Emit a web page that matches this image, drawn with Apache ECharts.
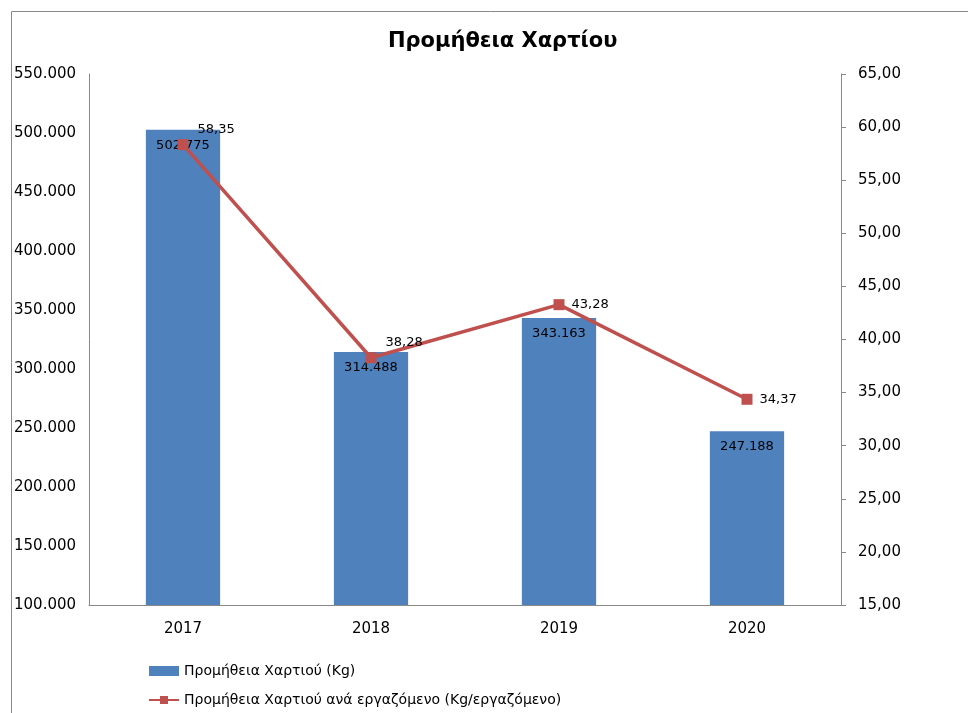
<!DOCTYPE html>
<html>
<head>
<meta charset="utf-8">
<script src="https://cdn.jsdelivr.net/npm/echarts@6/dist/echarts.min.js"></script>
<style>
  html, body { margin: 0; padding: 0; background: #fff; }
  #chart { width: 968px; height: 713px; }
</style>
</head>
<body>
<div id="chart"></div>
<script>
// Data
var years = ['2017', '2018', '2019', '2020'];
var paperKg = [502775, 314488, 343163, 247188];
var paperPerEmployee = [58.35, 38.28, 43.28, 34.37];

var barName = 'Προμήθεια Χαρτιού (Kg)';
var lineName = 'Προμήθεια Χαρτιού ανά εργαζόμενο (Kg/εργαζόμενο)';

var font = 'DejaVu Sans';

function thousands(v) {
    return String(Math.round(v)).replace(/\B(?=(\d{3})+(?!\d))/g, '.');
}
function decimal2(v) {
    return v.toFixed(2).replace('.', ',');
}

var myChart = echarts.init(document.getElementById('chart'));

myChart.setOption({
    animation: false,
    textStyle: { fontFamily: font },
    title: {
        text: 'Προμήθεια Χαρτίου',
        left: 383,
        top: 26,
        textStyle: { fontFamily: font, fontSize: 21, fontWeight: 'bold', color: '#000' }
    },
    graphic: [{
        type: 'rect',
        shape: { x: 11.5, y: 11.5, width: 1000, height: 1000 },
        style: { fill: 'none', stroke: '#888', lineWidth: 1 },
        silent: true
    }],
    legend: {
        orient: 'vertical',
        left: 143,
        top: 659,
        itemGap: 15,
        itemWidth: 30,
        itemHeight: 10,
        textStyle: { fontFamily: font, fontSize: 14, color: '#000' },
        data: [
            { name: barName, icon: 'rect', itemStyle: {} },
            { name: lineName }
        ]
    },
    grid: { left: 89, right: 127, top: 74, bottom: 108 },
    xAxis: {
        type: 'category',
        data: years,
        axisLine: { lineStyle: { color: '#888' } },
        axisTick: { show: false },
        axisLabel: { color: '#000', fontSize: 15, margin: 17 }
    },
    yAxis: [
        {
            type: 'value',
            min: 100000,
            max: 550000,
            interval: 50000,
            position: 'left',
            splitLine: { show: false },
            axisLine: { show: true, lineStyle: { color: '#888' } },
            axisTick: { show: false },
            axisLabel: {
                color: '#000', fontSize: 15, margin: 75, align: 'left',
                formatter: thousands
            }
        },
        {
            type: 'value',
            min: 15,
            max: 65,
            interval: 5,
            position: 'right',
            splitLine: { show: false },
            axisLine: { show: true, lineStyle: { color: '#888' } },
            axisTick: { show: true, length: 5, lineStyle: { color: '#888' } },
            axisLabel: { color: '#000', fontSize: 15, margin: 17, formatter: decimal2 }
        }
    ],
    series: [
        {
            name: barName,
            type: 'bar',
            yAxisIndex: 0,
            barWidth: '39.5%',
            data: paperKg,
            itemStyle: { color: '#4F81BD' },
            label: {
                show: true,
                position: 'insideTop',
                distance: 9,
                color: '#000',
                fontSize: 13,
                formatter: function (p) { return thousands(p.value); }
            }
        },
        {
            name: lineName,
            type: 'line',
            yAxisIndex: 1,
            symbol: 'rect',
            symbolSize: 11,
            z: 5,
            data: paperPerEmployee.map(function (v, i) {
                return i < 2 ? { value: v, label: { offset: [2, -15] } } : v;
            }),
            lineStyle: { color: '#C0504D', width: 3.5 },
            itemStyle: { color: '#C0504D' },
            label: {
                show: true,
                position: 'right',
                distance: 7,
                color: '#000',
                fontSize: 13,
                formatter: function (p) { return decimal2(p.value); }
            }
        }
    ]
});
</script>
</body>
</html>
